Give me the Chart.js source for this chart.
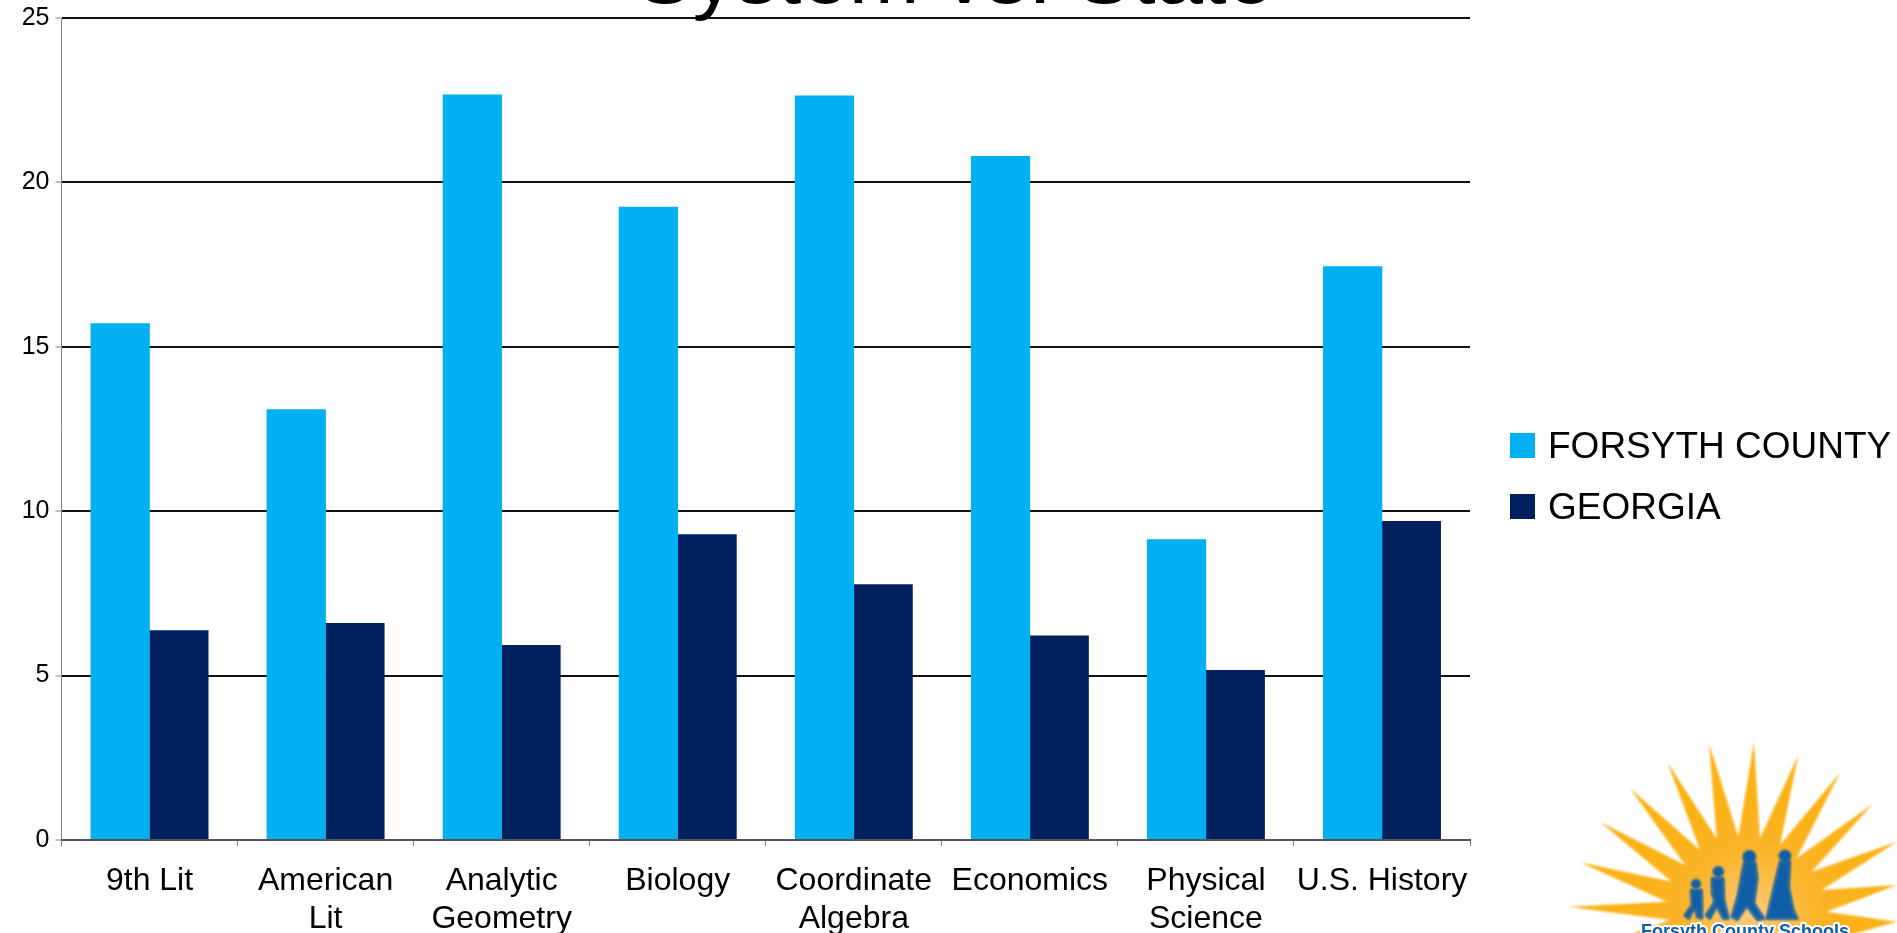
<!DOCTYPE html>
<html>
<head>
<meta charset="utf-8">
<style>html,body{margin:0;padding:0;background:#fff;overflow:hidden}canvas{display:block}</style>
<script src="https://cdn.jsdelivr.net/npm/chart.js@4"></script>
</head>
<body>
<div style="width:1897px;height:933px;position:relative"><canvas id="c" width="1897" height="933"></canvas></div>
<script>
const categories = [['9th Lit'], ['American', 'Lit'], ['Analytic', 'Geometry'], ['Biology'], ['Coordinate', 'Algebra'], ['Economics'], ['Physical', 'Science'], ['U.S. History']];
const forsyth = [15.72, 13.1, 22.67, 19.26, 22.64, 20.8, 9.15, 17.45];
const georgia = [6.38, 6.6, 5.93, 9.3, 7.78, 6.22, 5.17, 9.7];
const titleText = 'System vs. State';
const logoText = 'Forsyth County Schools';
const FONT = '"Liberation Sans", Arial, sans-serif';

/* Logo outline, in crop units: x = 1560 + u/3, y = 730 + v/3 */
const logoRays = [[215,612],[330,570],[25,530],[320,515],[60,397],[335,455],[122,277],[375,405],[210,175],[420,360],[322,97],[470,325],[447,40],[535,320],[582,35],[600,325],[715,75],[660,345],[840,128],[710,385],[938,222],[755,425],[1011,335],[785,480],[1011,465],[800,545],[1011,575],[880,612]];
const logoFigures = [
  [[660,395],[690,395],[686,470],[700,540],[712,566],[620,566],[640,480]],
  [[552,398],[586,398],[592,445],[582,520],[612,566],[592,570],[560,528],[532,570],[515,560],[532,505]],
  [[456,445],[490,445],[492,510],[506,565],[490,566],[470,528],[450,566],[438,556],[464,515],[456,490]],
  [[393,480],[425,480],[426,525],[426,565],[412,562],[405,532],[386,566],[374,556],[396,525]]
];
const logoHeads = [[675,378,16],[568,381,18],[475,425,14],[408,462,12]];

const decorations = {
  id: 'decorations',
  afterDraw(chart) {
    const ctx = chart.ctx;
    ctx.save();
    ctx.fillStyle = '#000';
    ctx.textAlign = 'center';
    ctx.textBaseline = 'alphabetic';
    ctx.font = '85px ' + FONT;
    ctx.fillText(titleText, 955, 3);

    ctx.textAlign = 'left';
    ctx.textBaseline = 'middle';
    ctx.font = '37px ' + FONT;
    chart.data.datasets.forEach((d, i) => {
      const y = 433 + i * 61;
      ctx.fillStyle = d.backgroundColor;
      ctx.fillRect(1510, y, 25, 25);
      ctx.fillStyle = '#000';
      ctx.fillText(d.label, 1548, y + 15);
    });

    const px = p => [1560 + p[0] / 3, 730 + p[1] / 3];
    const poly = pts => {
      ctx.beginPath();
      pts.forEach((p, i) => { const q = px(p); i ? ctx.lineTo(q[0], q[1]) : ctx.moveTo(q[0], q[1]); });
      ctx.closePath();
      ctx.fill();
      ctx.stroke();
    };
    ctx.filter = 'blur(0.8px)';
    const g = ctx.createRadialGradient(1750, 915, 10, 1750, 915, 110);
    g.addColorStop(0, '#fbc870');
    g.addColorStop(0.55, '#fbb42a');
    g.addColorStop(1, '#fbb217');
    ctx.fillStyle = g;
    ctx.strokeStyle = 'rgba(0,0,0,0)';
    poly(logoRays);
    ctx.fillStyle = '#0f5fa8';
    ctx.strokeStyle = '#0f5fa8';
    ctx.lineWidth = 2;
    logoFigures.forEach(poly);
    logoHeads.forEach(h => {
      const q = px(h);
      ctx.beginPath();
      ctx.arc(q[0], q[1], h[2] / 3 + 1, 0, Math.PI * 2);
      ctx.fill();
    });
    ctx.filter = 'none';
    ctx.textAlign = 'center';
    ctx.textBaseline = 'alphabetic';
    ctx.font = 'bold 18px ' + FONT;
    ctx.lineJoin = 'round';
    ctx.lineWidth = 4;
    ctx.strokeStyle = '#fff';
    ctx.strokeText(logoText, 1745, 937);
    ctx.fillStyle = '#0f5fa8';
    ctx.fillText(logoText, 1745, 937);
    ctx.restore();
  }
};

new Chart(document.getElementById('c'), {
  type: 'bar',
  data: {
    labels: categories,
    datasets: [
      { label: 'FORSYTH COUNTY', data: forsyth, backgroundColor: '#00B0F0', borderWidth: 0 },
      { label: 'GEORGIA', data: georgia, backgroundColor: '#002060', borderWidth: 0 }
    ]
  },
  options: {
    responsive: false,
    animation: false,
    layout: { padding: { top: 18, right: 427, bottom: 0, left: 0 } },
    datasets: { bar: { categoryPercentage: 2 / 3, barPercentage: 1.01 } },
    plugins: { legend: { display: false }, title: { display: false }, tooltip: { enabled: false } },
    scales: {
      x: {
        afterFit(s) { s.height = 93; },
        grid: { drawOnChartArea: false, drawTicks: true, tickLength: 6, tickColor: '#808080', offset: true },
        border: { color: '#555', width: 2, z: 1 },
        ticks: { color: '#000', font: { family: FONT, size: 32 }, padding: 16, autoSkip: false, maxRotation: 0, minRotation: 0 }
      },
      y: {
        min: 0, max: 25,
        afterFit(s) { s.width = 61.5; s.paddingTop = 0; s.paddingBottom = 0; },
        grid: { color: '#111', lineWidth: 2, tickColor: '#808080', tickWidth: 1, tickLength: 6 },
        border: { color: '#888', width: 1 },
        ticks: { color: '#000', font: { family: FONT, size: 25 }, stepSize: 5, padding: 6 }
      }
    }
  },
  plugins: [decorations]
});
</script>
</body>
</html>
